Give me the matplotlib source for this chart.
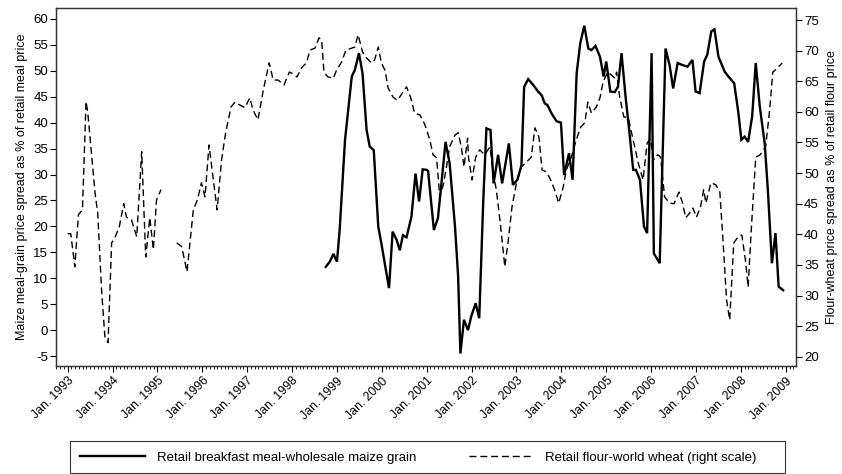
import numpy as np
import matplotlib.pyplot as plt
from matplotlib.ticker import MultipleLocator
from matplotlib.lines import Line2D
from matplotlib.patches import Rectangle

plt.rcParams['font.family'] = ['Liberation Sans', 'DejaVu Sans']
plt.rcParams['axes.unicode_minus'] = False

# time axis in years since Jan. 1993
maize_t = [5.75, 5.84, 5.92, 6.00, 6.06, 6.18, 6.25, 6.33, 6.40, 6.49, 6.57, 6.66,
           6.73, 6.82, 6.92, 6.99, 7.09, 7.16, 7.24, 7.33, 7.40, 7.47, 7.55, 7.66,
           7.75, 7.83, 7.91, 8.00, 8.03, 8.16, 8.25, 8.42, 8.51, 8.63, 8.70, 8.75,
           8.83, 8.92, 8.99, 9.09, 9.17, 9.26, 9.33, 9.42, 9.49, 9.59, 9.68, 9.83,
           9.92, 10.02, 10.11, 10.17, 10.26, 10.37, 10.48, 10.56, 10.63, 10.69, 10.78, 10.89,
           10.99, 11.06, 11.17, 11.25, 11.34, 11.42, 11.51, 11.60, 11.67, 11.76, 11.86, 11.94,
           12.00, 12.09, 12.19, 12.26, 12.34, 12.43, 12.51, 12.60, 12.66, 12.75, 12.84, 12.91,
           13.01, 13.06, 13.19, 13.32, 13.41, 13.49, 13.59, 13.70, 13.81, 13.92, 13.99, 14.08,
           14.18, 14.25, 14.34, 14.41, 14.50, 14.64, 14.75, 14.85, 14.94, 15.01, 15.08, 15.16,
           15.25, 15.33, 15.42, 15.53, 15.60, 15.69, 15.77, 15.84, 15.94]
maize_spread = [12.2, 13.2, 14.7, 13.2, 19.3, 36.7, 42.4, 48.9, 50.2, 53.4, 49.5, 38.6,
                35.4, 34.7, 20.0, 16.7, 11.6, 8.1, 19.0, 17.4, 15.4, 18.3, 17.9, 21.9,
                30.2, 24.8, 31.0, 30.9, 30.7, 19.3, 21.6, 36.3, 32.2, 20.0, 10.3, -4.5,
                2.0, 0.0, 2.6, 5.2, 2.3, 25.1, 38.9, 38.6, 28.3, 33.8, 28.3, 36.0,
                28.0, 29.0, 31.8, 46.9, 48.4, 47.3, 46.0, 45.3, 43.7, 43.4, 41.8, 40.3,
                40.0, 29.9, 34.1, 29.0, 49.5, 55.3, 58.7, 54.3, 54.0, 54.8, 52.7, 48.9,
                51.8, 46.0, 45.9, 46.9, 53.4, 45.0, 38.6, 30.9, 30.9, 29.0, 20.0, 18.7,
                53.4, 14.8, 12.9, 54.3, 51.1, 46.6, 51.5, 51.1, 50.8, 52.1, 46.0, 45.7,
                51.8, 53.1, 57.6, 58.0, 52.7, 49.8, 48.6, 47.6, 42.1, 36.7, 37.3, 36.3,
                41.2, 51.5, 43.1, 36.0, 27.0, 12.9, 18.7, 8.4, 7.7]

# NaN marks the break in the flour series during 1995
flour_t = [0.00, 0.07, 0.16, 0.24, 0.33, 0.41, 0.45, 0.61, 0.67, 0.76, 0.83, 0.90,
           0.98, 1.05, 1.15, 1.25, 1.31, 1.42, 1.54, 1.65, 1.68, 1.74, 1.83, 1.91,
           1.98, 2.08, 2.25, 2.43, 2.54, 2.66, 2.80, 2.89, 2.98, 3.06, 3.15, 3.21,
           3.33, 3.43, 3.52, 3.64, 3.73, 3.84, 3.95, 4.06, 4.13, 4.24, 4.36, 4.49,
           4.58, 4.69, 4.82, 4.94, 5.03, 5.11, 5.21, 5.32, 5.40, 5.51, 5.60, 5.66,
           5.71, 5.80, 5.92, 5.99, 6.10, 6.20, 6.29, 6.40, 6.47, 6.57, 6.66, 6.77,
           6.84, 6.92, 6.99, 7.07, 7.14, 7.25, 7.35, 7.46, 7.55, 7.64, 7.73, 7.85,
           7.96, 8.07, 8.14, 8.22, 8.29, 8.37, 8.44, 8.51, 8.63, 8.70, 8.77, 8.83,
           8.91, 8.93, 9.01, 9.09, 9.18, 9.29, 9.41, 9.48, 9.55, 9.63, 9.74, 9.81,
           9.90, 10.00, 10.11, 10.22, 10.33, 10.41, 10.50, 10.57, 10.67, 10.78, 10.87, 10.94,
           11.04, 11.11, 11.22, 11.33, 11.43, 11.52, 11.59, 11.67, 11.78, 11.86, 11.93, 12.03,
           12.12, 12.19, 12.23, 12.30, 12.39, 12.49, 12.60, 12.71, 12.82, 12.91, 12.98, 13.06,
           13.15, 13.21, 13.30, 13.41, 13.51, 13.62, 13.70, 13.77, 13.86, 13.93, 14.01, 14.10,
           14.17, 14.22, 14.33, 14.44, 14.53, 14.60, 14.68, 14.75, 14.84, 14.94, 15.02, 15.10,
           15.16, 15.23, 15.33, 15.43, 15.55, 15.64, 15.71, 15.82, 15.92]
flour_spread = [40.1, 40.1, 34.7, 43.2, 44.0, 61.7, 59.8, 46.8, 43.5, 30.4, 23.3, 22.3,
                38.6, 39.4, 41.2, 45.0, 42.8, 42.4, 39.6, 53.5, 47.7, 36.3, 42.7, 37.5,
                45.6, 47.3, np.nan, 38.6, 38.0, 33.9, 44.0, 45.6, 48.4, 46.1, 54.6, 51.0,
                44.0, 52.2, 56.6, 60.8, 61.6, 61.1, 60.7, 62.3, 60.3, 58.7, 63.6, 68.0,
                65.2, 65.2, 64.4, 66.5, 66.2, 65.7, 67.2, 68.0, 70.1, 70.4, 72.1, 71.7,
                66.5, 65.7, 65.5, 66.8, 68.1, 70.1, 70.3, 70.6, 72.6, 69.8, 68.8, 68.0,
                68.5, 70.6, 68.0, 66.8, 63.9, 62.4, 61.9, 63.1, 64.1, 62.4, 59.8, 59.5,
                57.9, 55.4, 53.0, 52.5, 46.1, 48.1, 51.0, 54.3, 56.2, 56.6, 54.3, 51.0,
                55.7, 52.6, 48.9, 52.6, 53.8, 53.0, 54.3, 50.0, 47.3, 42.4, 34.7, 38.6,
                44.5, 48.4, 51.0, 51.8, 52.6, 57.4, 55.9, 50.5, 50.2, 48.6, 46.8, 45.1,
                47.7, 50.5, 52.6, 55.4, 57.5, 58.2, 61.6, 59.8, 60.8, 62.3, 64.9, 66.5,
                66.0, 65.5, 66.5, 62.4, 59.2, 59.0, 55.4, 51.7, 48.9, 54.9, 55.6, 52.2,
                53.0, 52.6, 46.1, 45.1, 45.0, 46.9, 45.1, 42.7, 43.5, 44.3, 42.8, 44.5,
                47.3, 45.1, 48.4, 48.1, 46.9, 39.1, 29.3, 26.0, 38.6, 39.6, 39.9, 35.8,
                31.4, 40.7, 52.6, 53.0, 54.3, 60.3, 66.5, 67.2, 68.0]

years = list(range(1993, 2010))
year_labels = [f"Jan. {y}" for y in years]
left_ticks = list(range(-5, 61, 5))
right_ticks = list(range(20, 76, 5))

fig = plt.figure(figsize=(8.42, 4.74), dpi=100)
ax = fig.add_axes([0.067, 0.228, 0.878, 0.755])
ax2 = ax.twinx()

x_maize = 1993 + np.array(maize_t)
x_flour = 1993 + np.array(flour_t)

ax.plot(x_maize, maize_spread, color='black', lw=1.7, solid_joinstyle='miter')
ax2.plot(x_flour, flour_spread, color='black', lw=1.0, linestyle=(0, (5, 2.8)))

ax.set_xlim(1992.75, 2009.22)
ax.set_ylim(-6.9, 62.1)
ax2.set_ylim(18.5, 76.96)

ax.set_xticks(years)
ax.set_xticklabels(year_labels, rotation=45, ha='right', va='top',
                   rotation_mode='anchor', fontsize=8.8)
ax.xaxis.set_minor_locator(MultipleLocator(1 / 12))
ax.tick_params(axis='x', which='major', length=4.5, width=0.8, pad=2)
ax.tick_params(axis='x', which='minor', length=2, width=0.6)

ax.set_yticks(left_ticks)
ax.tick_params(axis='y', length=4, width=0.8, labelsize=9.5, pad=2)
ax2.set_yticks(right_ticks)
ax2.tick_params(axis='y', length=4, width=0.8, labelsize=9.5, pad=2)

ax.set_ylabel("Maize meal-grain price spread as % of retail meal price", fontsize=9, labelpad=4)
ax2.set_ylabel("Flour-wheat price spread as % of retail flour price", fontsize=9, labelpad=5)

for a in (ax, ax2):
    for s in a.spines.values():
        s.set_linewidth(0.9)
        s.set_color('#333333')

# legend entries, with a plain box drawn around them below the axes
handles = [
    Line2D([], [], color='black', lw=1.7),
    Line2D([], [], color='black', lw=1.0, linestyle=(0, (5, 2.8))),
]
labels = ["Retail breakfast meal-wholesale maize grain",
          "Retail flour-world wheat (right scale)"]
fig.legend(handles, labels, loc='center left', ncol=2, frameon=False,
           bbox_to_anchor=(0.095, 0.034), borderaxespad=0, borderpad=0,
           fontsize=9.5, handlelength=4.9, handletextpad=0.9, columnspacing=4.0)
fig.patches.append(Rectangle((0.0831, 0.0025), 0.849, 0.0675, transform=fig.transFigure,
                             fill=False, edgecolor='#333333', lw=0.8))

fig.savefig('out.png', dpi=100)
